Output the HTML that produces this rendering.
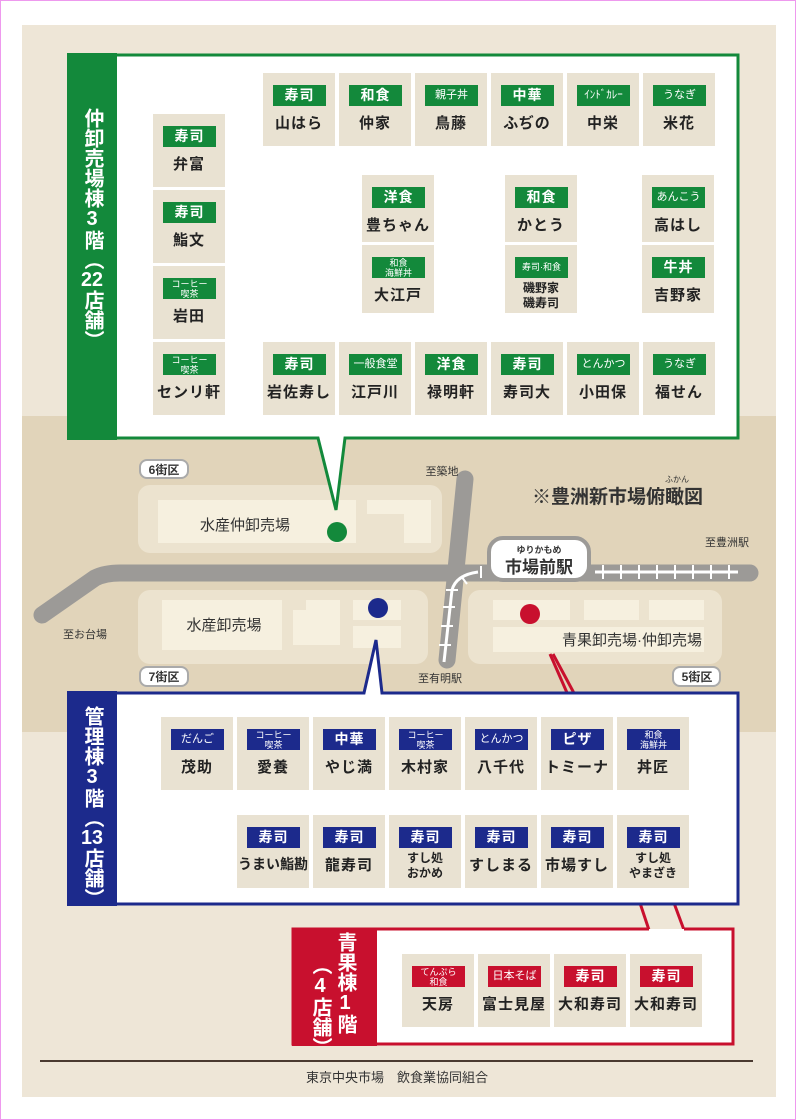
<!DOCTYPE html>
<html><head><meta charset="utf-8">
<style>
*{margin:0;padding:0;box-sizing:border-box}
body{width:796px;height:1120px;position:relative;background:#fff;font-family:"Liberation Sans","Noto Sans CJK JP",sans-serif;overflow:hidden}
.frame{position:absolute;left:0;top:0;width:796px;height:1120px;border:1px solid #ee99ee}
.paper{position:absolute;left:22px;top:25px;width:754px;height:1072px;background:#eee6d7}
.band{position:absolute;left:22px;top:416px;width:754px;height:316px;background:#e1d4ba}
.a{position:absolute}
.cell{position:absolute;width:72px;height:73px;background:#e9e2d2;text-align:center}
.lb{position:absolute;left:10px;top:12px;width:53px;height:21px;color:#fff;font-size:14px;line-height:21px;letter-spacing:1px;font-weight:bold}
.lb.s{font-size:9px;line-height:10px;padding-top:1px;letter-spacing:0;font-weight:normal}
.lb.m{font-size:11px;letter-spacing:0;font-weight:normal}
.nm{position:absolute;left:0;width:72px;top:39px;font-size:15px;font-weight:bold;color:#222;letter-spacing:1px;white-space:nowrap}
.nm.t{font-size:12px;top:36px;line-height:15px;letter-spacing:0}
.g .lb{background:#13893b}.b .lb{background:#1c2a8c}.r .lb{background:#c8102e}
.vt{position:absolute;writing-mode:vertical-rl;text-orientation:upright;color:#fff;font-size:20px;line-height:22px;font-weight:bold}
.tcu{text-combine-upright:all}
</style></head><body>
<div class="frame"></div>
<div class="paper"></div>
<div class="band"></div>

<svg class="a" style="left:0;top:0" width="796" height="1120">
 <rect x="138" y="485" width="304" height="68" rx="12" fill="#ece3cf"/>
 <rect x="158" y="500" width="198" height="43" fill="#f6f0df"/>
 <path d="M367 500 H431 V543 H404 V514 H367 Z" fill="#f6f0df"/>
 <rect x="138" y="590" width="290" height="74" rx="12" fill="#ece3cf"/>
 <rect x="162" y="600" width="120" height="50" fill="#f6f0df"/>
 <path d="M293 610 H306 V600 H340 V645 H293 Z" fill="#f6f0df"/>
 <rect x="353" y="600" width="48" height="20" fill="#f6f0df"/>
 <rect x="353" y="626" width="48" height="22" fill="#f6f0df"/>
 <rect x="468" y="590" width="254" height="74" rx="12" fill="#ece3cf"/>
 <rect x="493" y="600" width="77" height="20" fill="#f6f0df"/>
 <rect x="584" y="600" width="55" height="20" fill="#f6f0df"/>
 <rect x="649" y="600" width="55" height="20" fill="#f6f0df"/>
 <rect x="493" y="627" width="211" height="25" fill="#f6f0df"/>
 <g stroke="#9c9a97" stroke-width="17" fill="none" stroke-linecap="round">
  <path d="M42 615 L95 578 Q105 573 120 573 L750 573"/>
  <path d="M465 479 L447 660"/>
 </g>
 <g stroke="#fff" stroke-width="3" fill="none">
  <path d="M444 662 L452 590 Q456 575 478 572"/>
  <path d="M595 572 H738"/>
 </g>
 <g stroke="#fff" stroke-width="2">
  <path d="M603 565v14M621 565v14M639 565v14M657 565v14M675 565v14M693 565v14M711 565v14M729 565v14"/>
  <path d="M439 645h12M441 626h12M443 607h12M446 590h12M461 576l6 8M481 566v12"/>
 </g>
 <rect x="489" y="538" width="100" height="42" rx="14" fill="#fff" stroke="#9c9a97" stroke-width="4"/>
 <text x="539" y="553" font-size="9" font-weight="bold" text-anchor="middle" fill="#333">ゆりかもめ</text>
 <text x="539" y="573" font-size="17" font-weight="bold" text-anchor="middle" fill="#333">市場前駅</text>
 <g fill="#fff" stroke="#aaa" stroke-width="2">
  <rect x="140" y="460" width="48" height="18" rx="7"/>
  <rect x="140" y="667" width="48" height="19" rx="7"/>
  <rect x="673" y="667" width="47" height="19" rx="7"/>
 </g>
 <g font-size="12" font-weight="bold" fill="#333" text-anchor="middle">
  <text x="164" y="474">6街区</text><text x="164" y="681">7街区</text><text x="697" y="681">5街区</text>
 </g>
 <g font-size="11" fill="#333" text-anchor="middle">
  <text x="85" y="638">至お台場</text><text x="442" y="475">至築地</text>
  <text x="440" y="682">至有明駅</text><text x="727" y="546">至豊洲駅</text>
 </g>
 <text x="245" y="530" font-size="15" fill="#333" text-anchor="middle">水産仲卸売場</text>
 <text x="224" y="630" font-size="15" fill="#333" text-anchor="middle">水産卸売場</text>
 <text x="632" y="645" font-size="15" fill="#333" text-anchor="middle">青果卸売場·仲卸売場</text>
 <text x="532" y="503" font-size="19" font-weight="bold" fill="#333">※豊洲新市場俯瞰図</text>
 <text x="677" y="482" font-size="8" fill="#333" text-anchor="middle">ふかん</text>
 <circle cx="337" cy="532" r="10" fill="#13893b"/>
 <circle cx="378" cy="608" r="10" fill="#1c2a8c"/>
 <circle cx="530" cy="614" r="10" fill="#c8102e"/>
 <g stroke="#c8102e" stroke-width="3" fill="none">
  <path d="M550 654 L568 695"/><path d="M553 654 L575 695"/>
  <path d="M640 903 L649 930"/><path d="M674 903 L684 930"/>
 </g>
 <path d="M69 55 H738 V438 H345 L336 510 L318 438 H69 Z" fill="#fff" stroke="#13893b" stroke-width="3"/>
 <rect x="67" y="53" width="50" height="387" fill="#13893b"/>
 <path d="M69 693 H364 L376 640 L382 693 H738 V904 H69 Z" fill="#fff" stroke="#1c2a8c" stroke-width="3"/>
 <rect x="67" y="691" width="50" height="215" fill="#1c2a8c"/>
 <rect x="293" y="929" width="440" height="115" fill="#fff"/>
 <path d="M649 929 H293 V1044 H733 V929 H684" fill="none" stroke="#c8102e" stroke-width="3"/>
 <rect x="292" y="928" width="85" height="118" fill="#c8102e"/>
 <line x1="40" y1="1061" x2="753" y2="1061" stroke="#4a3a30" stroke-width="2"/>
 <text x="397" y="1082" font-size="13" fill="#333" text-anchor="middle">東京中央市場　飲食業協同組合</text>
</svg>

<div class="vt" style="left:81px;top:108px">仲卸売場棟3階（<span class="tcu">22</span>店舗）</div>
<div class="vt" style="left:81px;top:706px">管理棟3階（<span class="tcu">13</span>店舗）</div>
<div class="vt" style="left:334px;top:932px">青果棟1階</div>
<div class="vt" style="left:309px;top:955px">（4店舗）</div>

<div class="g">
 <div class="cell" style="left:263px;top:73px"><div class="lb">寿司</div><div class="nm">山はら</div></div>
 <div class="cell" style="left:339px;top:73px"><div class="lb">和食</div><div class="nm">仲家</div></div>
 <div class="cell" style="left:415px;top:73px"><div class="lb m">親子丼</div><div class="nm">鳥藤</div></div>
 <div class="cell" style="left:491px;top:73px"><div class="lb">中華</div><div class="nm">ふぢの</div></div>
 <div class="cell" style="left:567px;top:73px"><div class="lb m">ｲﾝﾄﾞｶﾚｰ</div><div class="nm">中栄</div></div>
 <div class="cell" style="left:643px;top:73px"><div class="lb m">うなぎ</div><div class="nm">米花</div></div>

 <div class="cell" style="left:153px;top:114px"><div class="lb">寿司</div><div class="nm">弁富</div></div>
 <div class="cell" style="left:153px;top:190px"><div class="lb">寿司</div><div class="nm">鮨文</div></div>
 <div class="cell" style="left:153px;top:266px"><div class="lb s">コーヒー<br>喫茶</div><div class="nm">岩田</div></div>
 <div class="cell" style="left:153px;top:342px"><div class="lb s">コーヒー<br>喫茶</div><div class="nm">センリ軒</div></div>

 <div class="cell" style="left:362px;top:175px;height:67px"><div class="lb">洋食</div><div class="nm">豊ちゃん</div></div>
 <div class="cell" style="left:362px;top:245px;height:68px"><div class="lb s">和食<br>海鮮丼</div><div class="nm">大江戸</div></div>
 <div class="cell" style="left:505px;top:175px;height:67px"><div class="lb">和食</div><div class="nm">かとう</div></div>
 <div class="cell" style="left:505px;top:245px;height:68px"><div class="lb s" style="line-height:19px">寿司·和食</div><div class="nm t">磯野家<br>磯寿司</div></div>
 <div class="cell" style="left:642px;top:175px;height:67px"><div class="lb m">あんこう</div><div class="nm">高はし</div></div>
 <div class="cell" style="left:642px;top:245px;height:68px"><div class="lb">牛丼</div><div class="nm">吉野家</div></div>

 <div class="cell" style="left:263px;top:342px"><div class="lb">寿司</div><div class="nm">岩佐寿し</div></div>
 <div class="cell" style="left:339px;top:342px"><div class="lb m">一般食堂</div><div class="nm">江戸川</div></div>
 <div class="cell" style="left:415px;top:342px"><div class="lb">洋食</div><div class="nm">禄明軒</div></div>
 <div class="cell" style="left:491px;top:342px"><div class="lb">寿司</div><div class="nm">寿司大</div></div>
 <div class="cell" style="left:567px;top:342px"><div class="lb m">とんかつ</div><div class="nm">小田保</div></div>
 <div class="cell" style="left:643px;top:342px"><div class="lb m">うなぎ</div><div class="nm">福せん</div></div>
</div>

<div class="b">
 <div class="cell" style="left:161px;top:717px"><div class="lb m">だんご</div><div class="nm">茂助</div></div>
 <div class="cell" style="left:237px;top:717px"><div class="lb s">コーヒー<br>喫茶</div><div class="nm">愛養</div></div>
 <div class="cell" style="left:313px;top:717px"><div class="lb">中華</div><div class="nm">やじ満</div></div>
 <div class="cell" style="left:389px;top:717px"><div class="lb s">コーヒー<br>喫茶</div><div class="nm">木村家</div></div>
 <div class="cell" style="left:465px;top:717px"><div class="lb m">とんかつ</div><div class="nm">八千代</div></div>
 <div class="cell" style="left:541px;top:717px"><div class="lb">ピザ</div><div class="nm">トミーナ</div></div>
 <div class="cell" style="left:617px;top:717px"><div class="lb s">和食<br>海鮮丼</div><div class="nm">丼匠</div></div>

 <div class="cell" style="left:237px;top:815px"><div class="lb">寿司</div><div class="nm" style="font-size:14px;letter-spacing:0">うまい鮨勘</div></div>
 <div class="cell" style="left:313px;top:815px"><div class="lb">寿司</div><div class="nm">龍寿司</div></div>
 <div class="cell" style="left:389px;top:815px"><div class="lb">寿司</div><div class="nm t">すし処<br>おかめ</div></div>
 <div class="cell" style="left:465px;top:815px"><div class="lb">寿司</div><div class="nm">すしまる</div></div>
 <div class="cell" style="left:541px;top:815px"><div class="lb">寿司</div><div class="nm">市場すし</div></div>
 <div class="cell" style="left:617px;top:815px"><div class="lb">寿司</div><div class="nm t">すし処<br>やまざき</div></div>
</div>

<div class="r">
 <div class="cell" style="left:402px;top:954px"><div class="lb s">てんぷら<br>和食</div><div class="nm">天房</div></div>
 <div class="cell" style="left:478px;top:954px"><div class="lb m">日本そば</div><div class="nm">富士見屋</div></div>
 <div class="cell" style="left:554px;top:954px"><div class="lb">寿司</div><div class="nm">大和寿司</div></div>
 <div class="cell" style="left:630px;top:954px"><div class="lb">寿司</div><div class="nm">大和寿司</div></div>
</div>
</body></html>
